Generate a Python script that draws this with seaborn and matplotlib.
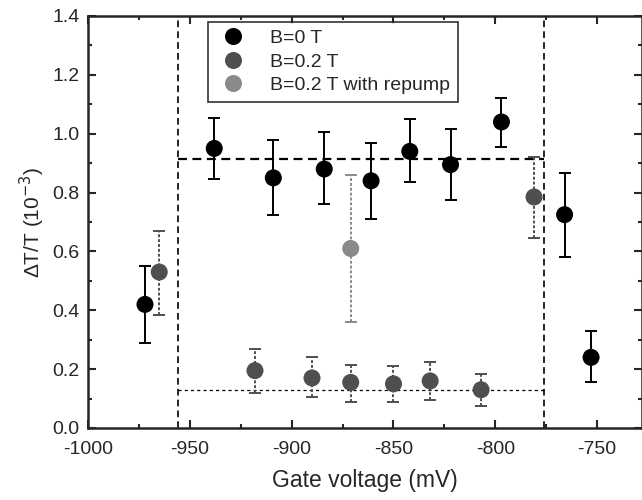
import numpy as np
import pandas as pd
import matplotlib
matplotlib.use("Agg")
import matplotlib.pyplot as plt
import seaborn as sns
from matplotlib.ticker import MultipleLocator, FormatStrFormatter

# B = 0 T
x_b0 = [-972, -938, -909, -884, -861, -842, -822, -797, -766, -753]
y_b0 = [0.42, 0.95, 0.85, 0.88, 0.84, 0.94, 0.895, 1.04, 0.725, 0.24]
lo_b0 = [0.29, 0.845, 0.725, 0.76, 0.71, 0.835, 0.775, 0.955, 0.58, 0.155]
hi_b0 = [0.55, 1.055, 0.98, 1.005, 0.97, 1.05, 1.015, 1.12, 0.865, 0.33]

# B = 0.2 T
x_b2 = [-965, -918, -890, -871, -850, -832, -807, -781]
y_b2 = [0.53, 0.195, 0.17, 0.155, 0.15, 0.16, 0.13, 0.785]
lo_b2 = [0.385, 0.12, 0.105, 0.09, 0.09, 0.095, 0.075, 0.645]
hi_b2 = [0.67, 0.27, 0.24, 0.215, 0.21, 0.225, 0.185, 0.92]

# B = 0.2 T with repump
x_rp = [-871]
y_rp = [0.61]
lo_rp = [0.36]
hi_rp = [0.86]

labels = ["B=0 T", "B=0.2 T", "B=0.2 T with repump"]
colors = ["black", "#4f4f4f", "#8a8a8a"]

v_left, v_right = -956, -776
h_high, h_low = 0.915, 0.13

sns.set_style("ticks")
plt.rcParams["font.family"] = ["Liberation Sans", "DejaVu Sans"]
plt.rcParams["axes.unicode_minus"] = False

fig = plt.figure(figsize=(6.42, 5.0), dpi=100)
ax = fig.add_axes([0.137, 0.144, 0.863, 0.824])

frames = []
for lab, xs, ys in zip(labels, [x_b0, x_b2, x_rp], [y_b0, y_b2, y_rp]):
    frames.append(pd.DataFrame({"x": xs, "y": ys, "series": lab}))
df = pd.concat(frames, ignore_index=True)

series_err = [(x_b0, y_b0, lo_b0, hi_b0, "-"),
              (x_b2, y_b2, lo_b2, hi_b2, (0, (1.5, 1))),
              (x_rp, y_rp, lo_rp, hi_rp, (0, (1.5, 1)))]
for (xs, ys, lo, hi, ls), c in zip(series_err, colors):
    ys = np.array(ys)
    yerr = [ys - np.array(lo), np.array(hi) - ys]
    eb = ax.errorbar(xs, ys, yerr=yerr, fmt="none", ecolor=c, elinewidth=1.4,
                     capsize=4.5, capthick=1.4, zorder=2)
    for lc in eb[2]:
        lc.set_linestyle(ls)

sns.scatterplot(data=df, x="x", y="y", hue="series", hue_order=labels,
                palette=dict(zip(labels, colors)), s=150, edgecolor="none",
                ax=ax, zorder=3)

ax.axvline(v_left, color="black", ls=(0, (4, 2.5)), lw=1.2, zorder=1)
ax.axvline(v_right, color="black", ls=(0, (4, 2.5)), lw=1.2, zorder=1)
ax.plot([v_left, v_right], [h_high, h_high], color="black", ls=(0, (4, 2.5)), lw=1.6, zorder=1)
ax.plot([v_left, v_right], [h_low, h_low], color="black", ls=(0, (2.5, 2.5)), lw=0.9, zorder=1)

ax.set_xlim(-1000, -728)
ax.set_ylim(0.0, 1.4)
ax.xaxis.set_major_locator(MultipleLocator(50))
ax.xaxis.set_minor_locator(MultipleLocator(25))
ax.yaxis.set_major_locator(MultipleLocator(0.2))
ax.yaxis.set_minor_locator(MultipleLocator(0.1))
ax.yaxis.set_major_formatter(FormatStrFormatter("%.1f"))
ax.tick_params(which="both", direction="in", top=True, right=True, width=1.5)
ax.tick_params(which="major", length=6, labelsize=14)
ax.tick_params(axis="x", which="major", pad=9)
ax.tick_params(axis="y", which="major", pad=6)
ax.tick_params(which="minor", length=3)
for sp in ax.spines.values():
    sp.set_linewidth(1.8)

ax.set_xlabel("Gate voltage (mV)", fontsize=16.5, labelpad=8)
ax.set_ylabel("ΔT/T (10$^{-3}$)", fontsize=15, labelpad=4)

leg = ax.legend(loc="upper left", bbox_to_anchor=(0.217, 0.986), fontsize=14,
                frameon=True, fancybox=False, edgecolor="black", markerscale=1.0,
                handletextpad=1.0, borderpad=0.4, labelspacing=0.3,
                borderaxespad=0, handlelength=1.8)
leg.get_frame().set_linewidth(1.2)

fig.savefig("out.png", dpi=100)
